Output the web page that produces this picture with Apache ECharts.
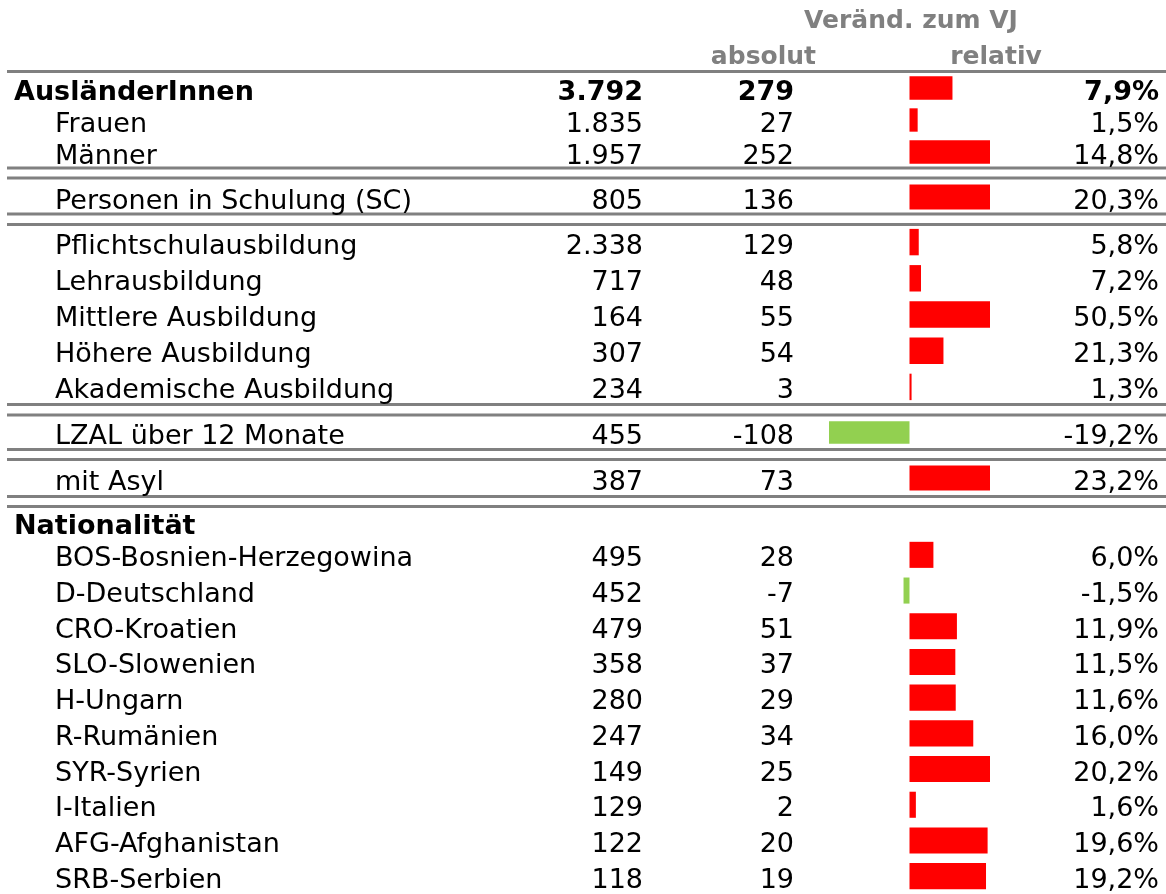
<!DOCTYPE html>
<html>
<head>
<meta charset="utf-8">
<title>AusländerInnen</title>
<script src="https://cdn.jsdelivr.net/npm/echarts@6/dist/echarts.min.js"></script>
<style>
html, body { margin: 0; padding: 0; background: #fff; }
#Tabelle { width: 1166px; height: 894px; }
</style>
</head>
<body>
<div id="Tabelle"></div>
<script>
var kategorien = ['AusländerInnen', 'Frauen', 'Männer', 'Personen in Schulung (SC)',
	'Pflichtschulausbildung', 'Lehrausbildung', 'Mittlere Ausbildung', 'Höhere Ausbildung',
	'Akademische Ausbildung', 'LZAL über 12 Monate', 'mit Asyl', 'Nationalität',
	'BOS-Bosnien-Herzegowina', 'D-Deutschland', 'CRO-Kroatien', 'SLO-Slowenien', 'H-Ungarn',
	'R-Rumänien', 'SYR-Syrien', 'I-Italien', 'AFG-Afghanistan', 'SRB-Serbien'];
var bestand = [3792, 1835, 1957, 805, 2338, 717, 164, 307, 234, 455, 387, null,
	495, 452, 479, 358, 280, 247, 149, 129, 122, 118];
var absolut = [279, 27, 252, 136, 129, 48, 55, 54, 3, -108, 73, null,
	28, -7, 51, 37, 29, 34, 25, 2, 20, 19];
var relativ = [7.9, 1.5, 14.8, 20.3, 5.8, 7.2, 50.5, 21.3, 1.3, -19.2, 23.2, null,
	6.0, -1.5, 11.9, 11.5, 11.6, 16.0, 20.2, 1.6, 19.6, 19.2];
// Zeilen je Block (jeder Block hat eigene Skala der Datenbalken)
var gruppenGroesse = [3, 1, 5, 1, 1, 1, 10];
var fettZeilen = ['AusländerInnen', 'Nationalität'];

var myChart = echarts.init(document.getElementById('Tabelle'));

var schrift = 'DejaVu Sans';
var grau = '#808080';
var blockOben = [72, 180, 224, 417, 461, 508, 537];
var blockHoehe = [96, 34, 181, 31, 34, 29, 363];
var linienY = [71.5, 168, 178, 214, 224.5, 404.5, 415, 449.5, 459.5, 496.5, 506.5];

function tausender(n) {
	return n == null ? '' : String(n).replace(/\B(?=(\d{3})+(?!\d))/g, '.');
}
function prozent(v) {
	return v == null ? '' : v.toFixed(1).replace('.', ',') + '%';
}

// Text sitzt in Excel etwas tiefer -> padding oben
var rich = {
	n: { fontFamily: schrift, fontSize: 27, color: '#000', padding: [9, 0, 0, 0] },
	b: { fontFamily: schrift, fontSize: 27, color: '#000', fontWeight: 'bold', padding: [9, 0, 0, 0] },
	i: { fontFamily: schrift, fontSize: 27, color: '#000', padding: [9, 0, 0, 41] }
};

var grid = [], xAxis = [], yAxis = [], series = [];
var start = 0;
gruppenGroesse.forEach(function(n, b) {
	var namen = kategorien.slice(start, start + n);
	var best = bestand.slice(start, start + n);
	var abs = absolut.slice(start, start + n);
	var rel = relativ.slice(start, start + n);
	var m = Math.max.apply(null, rel.map(function(v) { return v == null ? 0 : Math.abs(v); })) || 1;

	grid.push({ left: 829, right: 176, top: blockOben[b], height: blockHoehe[b] });
	xAxis.push({ gridIndex: b, type: 'value', min: -m, max: m, show: false });

	function achse(position, offset, label, texte, einzug) {
		return {
			gridIndex: b,
			type: 'category',
			inverse: true,
			data: namen,
			position: position,
			offset: offset,
			axisLine: { show: false },
			axisTick: { show: false },
			splitLine: { show: false },
			axisLabel: Object.assign({
				interval: 0,
				rich: rich,
				formatter: function(value, idx) {
					var t = texte[idx];
					if (t === '') return '';
					if (fettZeilen.indexOf(namen[idx]) >= 0) return '{b|' + t + '}';
					return (einzug ? '{i|' : '{n|') + t + '}';
				}
			}, label)
		};
	}
	yAxis.push(achse('left', 0, { align: 'left', margin: 815 }, namen, true));
	yAxis.push(achse('left', 186, { margin: 0 }, best.map(tausender), false));
	yAxis.push(achse('left', 35, { margin: 0 }, abs.map(function(v) { return v == null ? '' : String(v); }), false));
	yAxis.push(achse('right', 0, { align: 'right', margin: 169 }, rel.map(prozent), false));

	series.push({
		type: 'bar',
		xAxisIndex: b,
		yAxisIndex: 4 * b,
		data: rel,
		barCategoryGap: '27%',
		silent: true,
		itemStyle: {
			color: function(p) { return p.value < 0 ? '#92D050' : '#FF0000'; }
		}
	});
	start += n;
});

var graphic = linienY.map(function(y) {
	return {
		type: 'line',
		shape: { x1: 7, y1: y, x2: 1166, y2: y },
		style: { stroke: grau, lineWidth: 3 },
		silent: true
	};
});
[['Veränd. zum VJ', 911, 21, 'center'], ['absolut', 816, 57, 'right'], ['relativ', 996, 57, 'center']].forEach(function(k) {
	graphic.push({
		type: 'text',
		x: k[1],
		y: k[2],
		silent: true,
		style: {
			text: k[0],
			font: 'bold 25px "DejaVu Sans"',
			fill: grau,
			align: k[3],
			textAlign: k[3],
			verticalAlign: 'middle',
			textVerticalAlign: 'middle'
		}
	});
});

var option = {
	animation: false,
	backgroundColor: '#fff',
	grid: grid,
	xAxis: xAxis,
	yAxis: yAxis,
	series: series,
	graphic: graphic
};

myChart.setOption(option);

window.onresize = function() {
	myChart.resize();
}
</script>
</body>
</html>
